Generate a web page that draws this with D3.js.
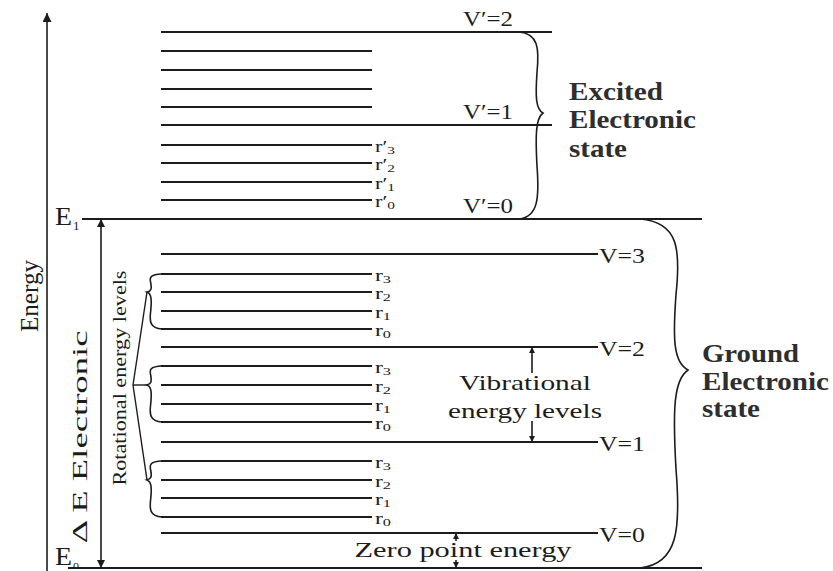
<!DOCTYPE html>
<html>
<head>
<meta charset="utf-8">
<script src="https://cdn.jsdelivr.net/npm/d3@7"></script>
<style>
  body { margin: 0; background: #fff; }
</style>
</head>
<body>
<div id="chart"></div>
<script>
var groundVib = [35, 126, 221, 314];
var groundVibLabels = ["V=0", "V=1", "V=2", "V=3"];
var groundRot = [[51, 70, 88, 107], [146, 164, 183, 202], [239, 257, 276, 294]];
var rotIndex = ["0", "1", "2", "3"];
var excitedVib = [349, 443, 536];
var excitedVibLabels = ["V′=0", "V′=1", "V′=2"];
var excitedRot = [[368, 386, 405, 423], [461, 479, 498, 517]];
var E0 = 0, E1 = 349, Etop = 555;

var width = 833, height = 571;
var ink = "#1c1c1c";

var y = d3.scaleLinear().domain([E0, Etop]).range([568, 13]);

var svg = d3.select("#chart").append("svg")
    .attr("width", width)
    .attr("height", height)
    .style("font-family", "'Liberation Serif', 'Times New Roman', serif")
    .style("fill", ink);

// arrow heads
var defs = svg.append("defs");
[["big", 16, 9], ["mid", 14, 8], ["small", 9, 6]].forEach(function(m) {
    defs.append("marker")
        .attr("id", "head-" + m[0])
        .attr("viewBox", "0 0 10 10")
        .attr("refX", 10).attr("refY", 5)
        .attr("markerUnits", "userSpaceOnUse")
        .attr("markerWidth", m[1]).attr("markerHeight", m[2])
        .attr("orient", "auto-start-reverse")
      .append("path")
        .attr("d", "M0,0 L10,5 L0,10 z")
        .style("fill", ink);
});

function hline(x1, x2, e, w) {
    svg.append("line")
        .attr("x1", x1).attr("x2", x2)
        .attr("y1", y(e)).attr("y2", y(e))
        .style("stroke", ink)
        .style("stroke-width", w || 1.8);
}

function arrow(x, y1, y2, head, both) {
    var l = svg.append("line")
        .attr("x1", x).attr("x2", x)
        .attr("y1", y1).attr("y2", y2)
        .style("stroke", ink)
        .style("stroke-width", 1.6)
        .attr("marker-end", "url(#head-" + head + ")");
    if (both) l.attr("marker-start", "url(#head-" + head + ")");
}

function label(x, yy, s, size, len, opts) {
    opts = opts || {};
    var t = svg.append("text")
        .attr("x", x).attr("y", yy)
        .style("font-size", size + "px")
        .text(s);
    if (len) t.attr("textLength", len).attr("lengthAdjust", "spacingAndGlyphs");
    if (opts.bold) t.style("font-weight", "bold").style("fill", "#2e2e2e");
    if (opts.anchor) t.attr("text-anchor", opts.anchor);
    if (opts.rotate) t.attr("transform", "rotate(-90," + x + "," + yy + ")");
    return t;
}

// curly brace from y0 to y1 with its tip at ym, depth d (negative = opening left)
function brace(x0, y0, y1, ym, d) {
    var h1 = ym - y0, h2 = y1 - ym;
    var p = d3.path();
    p.moveTo(x0, y0);
    p.bezierCurveTo(x0 + 0.8 * d, y0 + 0.02 * h1, x0 + 0.85 * d, y0 + 0.2 * h1, x0 + 0.75 * d, y0 + 0.5 * h1);
    p.bezierCurveTo(x0 + 0.68 * d, y0 + 0.8 * h1, x0 + 0.7 * d, ym - 0.05 * h1, x0 + d, ym);
    p.bezierCurveTo(x0 + 0.7 * d, ym + 0.05 * h2, x0 + 0.68 * d, ym + 0.2 * h2, x0 + 0.75 * d, ym + 0.5 * h2);
    p.bezierCurveTo(x0 + 0.85 * d, ym + 0.8 * h2, x0 + 0.8 * d, y1 - 0.02 * h2, x0, y1);
    svg.append("path")
        .attr("d", p.toString())
        .style("fill", "none")
        .style("stroke", ink)
        .style("stroke-width", 1.6);
}

// energy axis
arrow(47, height, y(Etop), "big");
label(38, 296, "Energy", 25, 72, {rotate: true, anchor: "middle"});

// electronic states
hline(68, 702, E0);
hline(82, 702, E1);
label(55, 565, "E", 26, 17);
label(73, 569, "o", 12);
label(55, 225, "E", 26, 17);
label(73, 230, "1", 13);

// Δ E Electronic
arrow(101, y(E1), y(E0), "mid", true);
label(87, 437, "Δ E Electronic", 22, 213, {rotate: true, anchor: "middle"});

// ground state vibrational levels
groundVib.forEach(function(e, i) {
    hline(161, 598, e);
    label(599, y(e) + 9, groundVibLabels[i], 22, 46);
});

// rotational levels
function rotLabel(e, i, prime) {
    var t = svg.append("text")
        .attr("x", 375).attr("y", y(e) + 7)
        .style("font-size", "16px")
        .attr("textLength", prime ? 20 : 16)
        .attr("lengthAdjust", "spacingAndGlyphs")
        .text(prime ? "r′" : "r");
    t.append("tspan")
        .attr("dy", 2)
        .style("font-size", "11px")
        .text(rotIndex[i]);
}

groundRot.forEach(function(g) {
    g.forEach(function(e, i) {
        hline(161, 372, e);
        rotLabel(e, i, false);
    });
    brace(162, y(g[3]), y(g[0]), y(g[2]), -15);
    svg.append("line")
        .attr("x1", 133).attr("y1", y(groundRot[1][2]))
        .attr("x2", 147).attr("y2", y(g[2]))
        .style("stroke", ink)
        .style("stroke-width", 1.4);
});
label(126, 378, "Rotational energy levels", 19, 215, {rotate: true, anchor: "middle"});

// excited state
excitedVib.forEach(function(e, i) {
    if (i > 0) hline(161, 552, e);
    label(463, y(e) - 6, excitedVibLabels[i], 22, 50);
});
excitedRot.forEach(function(g, k) {
    g.forEach(function(e, i) {
        hline(161, 372, e);
        if (k === 0) rotLabel(e, i, true);
    });
});

brace(519, y(excitedVib[2]), y(E1), y(455), 24);
label(569, 100, "Excited", 25, 94, {bold: true});
label(569, 128, "Electronic", 25, 127, {bold: true});
label(569, 157, "state", 25, 58, {bold: true});

brace(640, y(E1), y(E0), y(198), 48);
label(702, 362, "Ground", 25, 97, {bold: true});
label(702, 390, "Electronic", 25, 127, {bold: true});
label(702, 417, "state", 25, 58, {bold: true});

// vibrational spacing
arrow(532, 373, y(groundVib[2]), "small");
arrow(532, 421, y(groundVib[1]), "small");
label(525, 390, "Vibrational", 22, 132, {anchor: "middle"});
label(525, 418, "energy levels", 22, 154, {anchor: "middle"});

// zero point energy
arrow(456, 541, y(groundVib[0]), "small");
arrow(456, 560, y(E0), "small");
label(463, 557, "Zero point energy", 22, 217, {anchor: "middle"});
</script>
</body>
</html>
